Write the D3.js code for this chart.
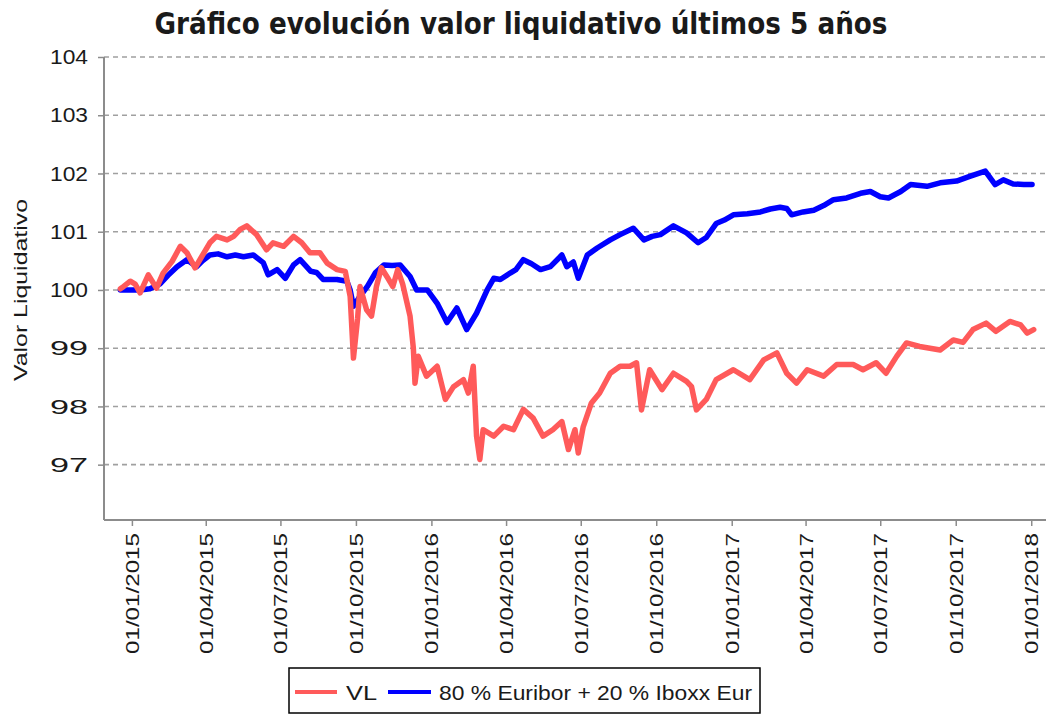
<!DOCTYPE html>
<html>
<head>
<meta charset="utf-8">
<script src="https://cdn.jsdelivr.net/npm/d3@7"></script>
<style>
  html, body { margin: 0; padding: 0; background: #FFFFFF; }
  svg { display: block; }
</style>
</head>
<body>
<div id="chart"></div>
<script>
const RED = "#FF5A5A";
const BLUE = "#0000FF";
const AXIS_GREY = "#8C8C8C";
const GRID_GREY = "#A0A0A0";
const TEXT = "#1A1A1A";

// ---- data ----
const vlDates = [
  "2014-12-18","2014-12-22","2014-12-30","2015-01-05","2015-01-11","2015-01-21","2015-01-31","2015-02-08",
  "2015-02-19","2015-03-01","2015-03-09","2015-03-19","2015-03-27","2015-04-06","2015-04-14","2015-04-27",
  "2015-05-05","2015-05-13","2015-05-21","2015-06-02","2015-06-14","2015-06-22","2015-07-05","2015-07-17",
  "2015-07-27","2015-08-06","2015-08-18","2015-08-27","2015-09-08","2015-09-18","2015-09-24","2015-09-28",
  "2015-10-03","2015-10-06","2015-10-14","2015-10-20","2015-10-26","2015-11-01","2015-11-09","2015-11-15",
  "2015-11-21","2015-11-27","2015-12-06","2015-12-10","2015-12-12","2015-12-16","2015-12-26","2016-01-08",
  "2016-01-18","2016-01-28","2016-02-09","2016-02-15","2016-02-21","2016-02-25","2016-02-29","2016-03-04",
  "2016-03-17","2016-03-29","2016-04-10","2016-04-22","2016-05-04","2016-05-16","2016-05-28","2016-06-08",
  "2016-06-16","2016-06-24","2016-06-28","2016-07-04","2016-07-14","2016-07-24","2016-08-06","2016-08-18",
  "2016-08-30","2016-09-07","2016-09-13","2016-09-23","2016-10-08","2016-10-22","2016-11-07","2016-11-13",
  "2016-11-19","2016-12-01","2016-12-13","2017-01-03","2017-01-23","2017-02-09","2017-02-25","2017-03-09",
  "2017-03-21","2017-04-03","2017-04-23","2017-05-09","2017-05-29","2017-06-10","2017-06-26","2017-07-08",
  "2017-07-21","2017-08-02","2017-08-18","2017-09-12","2017-09-28","2017-10-10","2017-10-22","2017-11-07",
  "2017-11-19","2017-12-06","2017-12-19","2017-12-27","2018-01-04"
];
const vlValues = [
  100.02,100.06,100.15,100.10,99.95,100.26,100.03,100.29,
  100.49,100.75,100.64,100.38,100.57,100.81,100.92,100.86,
  100.92,101.04,101.10,100.95,100.69,100.81,100.75,100.92,
  100.81,100.64,100.64,100.46,100.35,100.32,99.89,98.83,
  99.50,100.06,99.66,99.55,100.06,100.38,100.20,100.06,
  100.35,100.10,99.55,99.00,98.40,98.86,98.52,98.69,
  98.12,98.34,98.46,98.23,98.69,97.49,97.09,97.60,
  97.49,97.66,97.60,97.95,97.80,97.49,97.60,97.74,
  97.26,97.60,97.20,97.65,98.06,98.23,98.57,98.69,
  98.69,98.75,97.94,98.63,98.29,98.57,98.43,98.34,
  97.94,98.12,98.46,98.63,98.46,98.80,98.92,98.57,
  98.40,98.63,98.52,98.72,98.72,98.63,98.75,98.57,
  98.86,99.09,99.03,98.97,99.14,99.10,99.32,99.43,
  99.29,99.46,99.40,99.26,99.32
];

const bmDates = [
  "2014-12-18","2014-12-30","2015-01-11","2015-01-23","2015-02-04","2015-02-14","2015-02-25","2015-03-09",
  "2015-03-21","2015-03-28","2015-04-06","2015-04-16","2015-04-27","2015-05-07","2015-05-17","2015-05-29",
  "2015-06-10","2015-06-16","2015-06-27","2015-07-07","2015-07-17","2015-07-25","2015-08-07","2015-08-14",
  "2015-08-22","2015-09-08","2015-09-20","2015-09-24","2015-09-28","2015-10-04","2015-10-15","2015-10-25",
  "2015-11-04","2015-11-14","2015-11-24","2015-12-06","2015-12-14","2015-12-27","2016-01-08","2016-01-20",
  "2016-02-01","2016-02-13","2016-02-25","2016-03-09","2016-03-17","2016-03-25","2016-04-06","2016-04-13",
  "2016-04-22","2016-05-02","2016-05-13","2016-05-25","2016-06-08","2016-06-14","2016-06-22","2016-06-28",
  "2016-07-09","2016-07-21","2016-08-06","2016-08-18","2016-09-03","2016-09-16","2016-09-26","2016-10-06",
  "2016-10-22","2016-11-07","2016-11-21","2016-12-01","2016-12-13","2016-12-23","2017-01-03","2017-01-20",
  "2017-02-05","2017-02-17","2017-03-01","2017-03-09","2017-03-15","2017-03-29","2017-04-11","2017-04-23",
  "2017-05-05","2017-05-21","2017-06-07","2017-06-19","2017-07-01","2017-07-11","2017-07-26","2017-08-07",
  "2017-08-27","2017-09-12","2017-10-02","2017-10-18","2017-11-06","2017-11-18","2017-11-28","2017-12-10",
  "2017-12-23","2018-01-02"
];
const bmValues = [
  100.00,100.00,100.00,100.02,100.10,100.25,100.40,100.52,
  100.40,100.50,100.60,100.62,100.57,100.60,100.57,100.60,
  100.47,100.26,100.35,100.20,100.43,100.52,100.32,100.30,
  100.18,100.18,100.15,100.00,99.72,99.85,100.06,100.30,
  100.43,100.42,100.43,100.23,100.00,100.00,99.77,99.44,
  99.69,99.32,99.60,100.00,100.20,100.18,100.29,100.35,
  100.52,100.45,100.35,100.40,100.60,100.40,100.48,100.20,
  100.60,100.72,100.86,100.95,101.06,100.86,100.92,100.95,
  101.10,100.98,100.81,100.90,101.14,101.20,101.29,101.31,
  101.34,101.39,101.42,101.40,101.29,101.34,101.37,101.45,
  101.55,101.58,101.66,101.69,101.60,101.58,101.69,101.81,
  101.78,101.84,101.87,101.95,102.04,101.81,101.89,101.82,
  101.81,101.81
];

const xTickLabels = [
  "01/01/2015","01/04/2015","01/07/2015","01/10/2015","01/01/2016","01/04/2016","01/07/2016",
  "01/10/2016","01/01/2017","01/04/2017","01/07/2017","01/10/2017","01/01/2018"
];
const yTicks = [97, 98, 99, 100, 101, 102, 103, 104];
const seriesNames = ["VL", "80 % Euribor + 20 % Iboxx  Eur"];

// ---- layout ----
const width = 1048;
const height = 717;
const plot = { left: 104, right: 1046, top: 57, bottom: 520 };

const parseIso = d3.timeParse("%Y-%m-%d");
const parseTick = d3.timeParse("%d/%m/%Y");
const fmtTick = d3.timeFormat("%d/%m/%Y");

const vl = vlDates.map((d, i) => ({ date: parseIso(d), value: vlValues[i] }));
const bm = bmDates.map((d, i) => ({ date: parseIso(d), value: bmValues[i] }));
const xTicks = xTickLabels.map(parseTick);

const x = d3.scaleTime()
  .domain([parseIso("2014-11-28"), parseIso("2018-01-19")])
  .range([plot.left, plot.right]);

const y = d3.scaleLinear()
  .domain([96.05, 104])
  .range([plot.bottom, plot.top]);

const svg = d3.select("#chart").append("svg")
  .attr("width", width)
  .attr("height", height)
  .style("font-family", "'Liberation Sans', Arial, sans-serif");

////////////////////////////////////////////////////////////////////////////////////

// title
svg.append("text")
  .attr("x", 521)
  .attr("y", 34)
  .attr("text-anchor", "middle")
  .attr("font-family", "'Liberation Sans Narrow', 'DejaVu Sans Condensed', 'Liberation Sans', sans-serif")
  .attr("font-weight", "bold")
  .attr("font-size", "30px")
  .attr("fill", TEXT)
  .attr("textLength", 733)
  .attr("lengthAdjust", "spacingAndGlyphs")
  .text("Gráfico evolución valor liquidativo últimos 5 años");

// gridlines
svg.append("g")
  .selectAll("line")
  .data(yTicks)
  .enter()
  .append("line")
  .attr("x1", plot.left)
  .attr("x2", plot.right)
  .attr("y1", d => y(d))
  .attr("y2", d => y(d))
  .style("stroke", GRID_GREY)
  .style("stroke-width", 1.6)
  .style("stroke-dasharray", "5,4");

// y axis
const yAxis = svg.append("g")
  .attr("transform", `translate(${plot.left},0)`)
  .call(d3.axisLeft(y).tickValues(yTicks).tickSize(6).tickPadding(10).tickFormat(d3.format("d")));
yAxis.select(".domain").attr("d", `M0,${plot.top}V${plot.bottom}`).style("stroke", AXIS_GREY).style("stroke-width", 2);
yAxis.selectAll(".tick line").style("stroke", AXIS_GREY).style("stroke-width", 1.5);
yAxis.selectAll(".tick text")
  .attr("font-size", "21px")
  .attr("fill", TEXT)
  .attr("textLength", 38)
  .attr("lengthAdjust", "spacingAndGlyphs");

// x axis
const xAxis = svg.append("g")
  .attr("transform", `translate(0,${plot.bottom})`)
  .call(d3.axisBottom(x).tickValues(xTicks).tickSize(6).tickFormat(fmtTick));
xAxis.select(".domain").attr("d", `M${plot.left},0H${plot.right}`).style("stroke", AXIS_GREY).style("stroke-width", 2);
xAxis.selectAll(".tick line").style("stroke", AXIS_GREY).style("stroke-width", 1.5);
xAxis.selectAll(".tick text")
  .attr("transform", "rotate(-90)")
  .attr("text-anchor", "end")
  .attr("x", -13)
  .attr("y", 0)
  .attr("dy", "0.36em")
  .attr("font-size", "18px")
  .attr("fill", TEXT)
  .attr("textLength", 121)
  .attr("lengthAdjust", "spacingAndGlyphs");

// y axis title
svg.append("text")
  .attr("transform", "translate(27,290) rotate(-90)")
  .attr("text-anchor", "middle")
  .attr("font-size", "19px")
  .attr("fill", TEXT)
  .attr("textLength", 182)
  .attr("lengthAdjust", "spacingAndGlyphs")
  .text("Valor Liquidativo");

////////////////////////////////////////////////////////////////////////////////////

const line = d3.line()
  .x(d => x(d.date))
  .y(d => y(d.value));

svg.append("path")
  .datum(bm)
  .attr("d", line)
  .attr("fill", "none")
  .style("stroke", BLUE)
  .style("stroke-width", 5.5)
  .style("stroke-linejoin", "round")
  .style("stroke-linecap", "round");

svg.append("path")
  .datum(vl)
  .attr("d", line)
  .attr("fill", "none")
  .style("stroke", RED)
  .style("stroke-width", 5.5)
  .style("stroke-linejoin", "round")
  .style("stroke-linecap", "round");

////////////////////////////////////////////////////////////////////////////////////

// legend
const legend = svg.append("g");
legend.append("rect")
  .attr("x", 289)
  .attr("y", 668)
  .attr("width", 471)
  .attr("height", 45)
  .attr("fill", "#FFFFFF")
  .style("stroke", "#000000")
  .style("stroke-width", 1.5);

const legendItems = [
  { name: seriesNames[0], color: RED, x0: 295, x1: 337, tx: 346, tw: 31 },
  { name: seriesNames[1], color: BLUE, x0: 388, x1: 431, tx: 439, tw: 313 }
];

legendItems.forEach(item => {
  legend.append("line")
    .attr("x1", item.x0)
    .attr("x2", item.x1)
    .attr("y1", 692)
    .attr("y2", 692)
    .style("stroke", item.color)
    .style("stroke-width", 4);
  legend.append("text")
    .attr("x", item.tx)
    .attr("y", 700)
    .attr("font-size", "21px")
    .attr("fill", TEXT)
    .attr("textLength", item.tw)
    .attr("lengthAdjust", "spacingAndGlyphs")
    .text(item.name);
});
</script>
</body>
</html>
